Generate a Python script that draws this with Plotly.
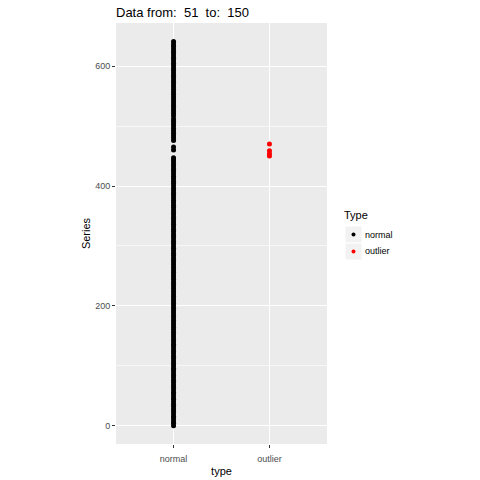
import plotly.graph_objects as go

# Series values split by type
normal_values = [
    0, 4, 8, 12, 16, 20, 24, 28, 32, 36, 40, 44, 48, 52, 56, 60, 64, 68, 72,
    76, 80, 84, 88, 92, 96, 100, 104, 108, 112, 116, 120, 124, 128, 132, 136,
    140, 144, 148, 152, 156, 160, 164, 168, 172, 176, 180, 184, 188, 192, 196,
    200, 204, 208, 212, 216, 220, 224, 228, 232, 236, 240, 244, 248, 252, 256,
    260, 264, 268, 272, 276, 280, 284, 288, 292, 296, 300, 304, 308, 312, 316,
    320, 324, 328, 332, 336, 340, 344, 348, 352, 356, 360, 364, 368, 372, 376,
    380, 384, 388, 392, 396, 400, 404, 408, 412, 416, 420, 424, 428, 432, 436,
    440, 444, 447,
    460, 465,
    476, 480, 484, 488, 492, 496, 500, 504, 508, 512, 517, 521, 525, 529, 533,
    537, 541, 545, 549, 553, 557, 561, 565, 569, 573, 577, 581, 585, 589, 593,
    597, 601, 605, 609, 613, 617, 621, 625, 629, 633, 637, 641,
]
outlier_values = [470, 459, 454, 450]

categories = ["normal", "outlier"]
y_ticks = [0, 200, 400, 600]
title_text = "Data from:  51  to:  150"
legend_title = "Type"
legend_colors = ["black", "red"]

FONT = "Liberation Sans, Arial, sans-serif"
GREY_TEXT = "#4D4D4D"

# plotting panel in pixels
W = H = 480
L, R, T, B = 116, 153, 23, 36
PW, PH = W - L - R, H - T - B


def px_x(x):
    return (x - L) / PW


def px_y(y):
    return (H - B - y) / PH


fig = go.Figure()
for name, vals, col in zip(categories, [normal_values, outlier_values], legend_colors):
    fig.add_trace(go.Scatter(
        x=[name] * len(vals), y=vals, mode="markers", name=name,
        marker=dict(color=col, size=5, line=dict(width=0)),
        showlegend=False,
    ))

# legend drawn as keys + labels to the right of the panel
fig.add_annotation(text=legend_title, xref="paper", yref="paper",
                   x=px_x(342), y=px_y(215), xanchor="left", yanchor="middle",
                   showarrow=False, font=dict(size=11, color="black"))
for i, (name, col) in enumerate(zip(categories, legend_colors)):
    top = 226 + i * 17
    fig.add_shape(type="rect", xref="paper", yref="paper",
                  x0=px_x(345), x1=px_x(362), y0=px_y(top + 17), y1=px_y(top),
                  fillcolor="#F2F2F2", line=dict(width=1, color="white"),
                  layer="above")
    cy = top + 8.5
    fig.add_shape(type="circle", xref="paper", yref="paper",
                  x0=px_x(351.5), x1=px_x(355.5), y0=px_y(cy + 2), y1=px_y(cy - 2),
                  fillcolor=col, line=dict(width=0), layer="above")
    fig.add_annotation(text=name, xref="paper", yref="paper",
                       x=px_x(363), y=px_y(cy), xanchor="left", yanchor="middle",
                       showarrow=False, font=dict(size=9, color="black"))

fig.update_layout(
    width=W, height=H,
    margin=dict(l=L, r=R, t=T, b=B),
    paper_bgcolor="white", plot_bgcolor="#EBEBEB",
    font=dict(family=FONT, color="black"),
    title=dict(text=title_text, x=L / W, xanchor="left", xref="container",
               y=1 - 12 / H, yanchor="middle", yref="container",
               font=dict(size=13, color="black")),
    showlegend=False,
    xaxis=dict(
        type="category", categoryorder="array", categoryarray=categories,
        range=[-0.6, 1.6], showgrid=True, gridcolor="white", gridwidth=1.1,
        zeroline=False, showline=False, automargin=False,
        ticks="outside", ticklen=3, tickcolor="#333333", tickwidth=1,
        ticklabelstandoff=3,
        tickfont=dict(size=9, color=GREY_TEXT),
        title=dict(text="type", font=dict(size=11, color="black"), standoff=4),
    ),
    yaxis=dict(
        range=[-30.5, 672], tickvals=y_ticks, showgrid=True, gridcolor="white",
        gridwidth=1.1, zeroline=False, showline=False, automargin=False,
        ticks="outside", ticklen=3, tickcolor="#333333", tickwidth=1,
        tickfont=dict(size=9, color=GREY_TEXT),
        minor=dict(dtick=100, tick0=0, showgrid=True, gridcolor="#F7F7F7",
                   gridwidth=0.55),
        title=dict(text="Series", font=dict(size=11, color="black"), standoff=2),
    ),
)

fig.write_html("out.html")
